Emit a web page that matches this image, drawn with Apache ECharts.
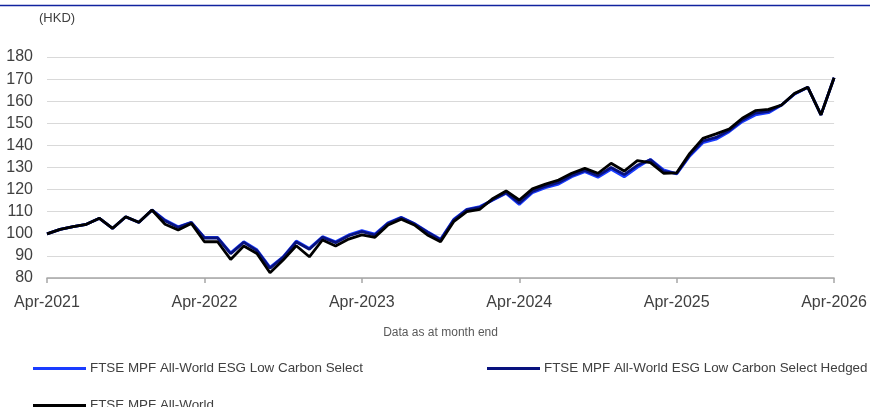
<!DOCTYPE html>
<html>
<head>
<meta charset="utf-8">
<script src="https://cdn.jsdelivr.net/npm/echarts@6/dist/echarts.min.js"></script>
<style>
html,body{margin:0;padding:0;background:#fff;}
#chart{width:870px;height:407px;}
</style>
</head>
<body>
<div id="chart"></div>
<script>
var categories = [
  "Apr-2021","May-2021","Jun-2021","Jul-2021","Aug-2021","Sep-2021","Oct-2021","Nov-2021","Dec-2021",
  "Jan-2022","Feb-2022","Mar-2022","Apr-2022","May-2022","Jun-2022","Jul-2022","Aug-2022","Sep-2022","Oct-2022","Nov-2022","Dec-2022",
  "Jan-2023","Feb-2023","Mar-2023","Apr-2023","May-2023","Jun-2023","Jul-2023","Aug-2023","Sep-2023","Oct-2023","Nov-2023","Dec-2023",
  "Jan-2024","Feb-2024","Mar-2024","Apr-2024","May-2024","Jun-2024","Jul-2024","Aug-2024","Sep-2024","Oct-2024","Nov-2024","Dec-2024",
  "Jan-2025","Feb-2025","Mar-2025","Apr-2025","May-2025","Jun-2025","Jul-2025","Aug-2025","Sep-2025","Oct-2025","Nov-2025","Dec-2025",
  "Jan-2026","Feb-2026","Mar-2026","Apr-2026"
];

var seriesNames = [
  "FTSE MPF All-World ESG Low Carbon Select",
  "FTSE MPF All-World ESG Low Carbon Select Hedged",
  "FTSE MPF All-World"
];

var esgLowCarbon = [
  100, 102, 103.2, 104.3, 107, 102.5, 107.7, 105.2, 110.8,
  106.2, 103.2, 105.2, 98.4, 98.4, 91.4, 96.4, 92.8, 84.8, 89.6, 96.7, 93.4,
  98.7, 96.4, 99.5, 101.4, 99.9, 105, 107.5, 104.7, 101, 97.5, 106.5, 111.1,
  112.3, 115.3, 118.3, 113.3, 118.6, 120.9, 122.5, 125.8, 128.1, 125.6, 129.2, 125.8,
  130.1, 133.7, 128.9, 127.1, 135.2, 141.2, 142.8, 146.2, 150.7, 153.8, 154.8, 158.3,
  163.3, 166.3, 153.8, 170.6
];

var esgLowCarbonHedged = [
  100, 102, 103.2, 104.3, 107, 102.4, 107.6, 105.1, 110.7,
  105.9, 102.9, 105.1, 98.1, 98.1, 91, 96.1, 92.4, 84.4, 89.3, 96.3, 93,
  98.4, 96, 99.1, 101, 99.4, 104.7, 107.3, 104.5, 100.7, 97.2, 106.2, 110.8,
  111.9, 115.5, 118.6, 114, 119.2, 121.5, 123.2, 126.4, 128.7, 126.3, 130, 126.8,
  131, 133.5, 128.3, 127.3, 135.7, 142, 143.6, 146.7, 151.4, 154.6, 155.4, 158.3,
  163.4, 166.3, 153.8, 170.6
];

var allWorld = [
  100, 102, 103.2, 104.3, 107, 102.5, 107.7, 105.2, 110.8,
  104.3, 101.7, 104.7, 96.4, 96.4, 88.4, 94.5, 91.1, 82.4, 88.1, 94.6, 89.6,
  97.2, 94.5, 97.6, 99.5, 98.4, 104, 106.6, 104, 99.5, 96.4, 105.5, 110,
  111.1, 116, 119.4, 115.3, 120.3, 122.5, 124.3, 127.4, 129.6, 127.4, 131.9, 128.4,
  133.1, 132.2, 127.4, 127.6, 136.4, 143.2, 145.2, 147.4, 152.3, 155.7, 156.3, 158.3,
  163.6, 166.3, 153.8, 170.6
];

var yTicks = { min: 80, max: 180, interval: 10 };

var colors = ["#1a3cff", "#08127e", "#000000"];
var font = "Arial, 'Liberation Sans', sans-serif";

var chart = echarts.init(document.getElementById('chart'), null, { renderer: 'canvas' });

function legendFor(i, left, top) {
  return {
    show: true,
    data: [seriesNames[i]],
    left: left,
    top: top,
    orient: 'horizontal',
    icon: 'rect',
    itemWidth: 53,
    itemHeight: 3,
    padding: 0,
    textStyle: { fontFamily: font, fontSize: 13.4, color: '#404040', padding: [0, 0, 0, -1] }
  };
}

chart.setOption({
  animation: false,
  backgroundColor: '#ffffff',
  color: colors,
  grid: { left: 47, right: 34, top: 57, bottom: 129, containLabel: false },
  legend: [
    legendFor(0, 33, 362),
    legendFor(1, 487, 362),
    legendFor(2, 33, 399)
  ],
  graphic: [
    {
      type: 'line',
      shape: { x1: 0, y1: 5.5, x2: 870, y2: 5.5 },
      style: { stroke: '#10239f', lineWidth: 1.5 }
    },
    {
      type: 'text',
      left: 39,
      top: 12,
      style: { text: '(HKD)', fontFamily: font, fontSize: 13, fill: '#404040' }
    }
  ],
  xAxis: {
    type: 'category',
    data: categories,
    boundaryGap: false,
    name: 'Data as at month end',
    nameLocation: 'middle',
    nameGap: 49,
    nameTextStyle: { fontFamily: font, fontSize: 12, color: '#595959' },
    axisLine: { show: true, lineStyle: { color: '#a6a6a6', width: 1.5 } },
    axisTick: { show: true, interval: 11, length: 5, lineStyle: { color: '#a6a6a6', width: 1.5 } },
    axisLabel: { interval: 11, margin: 17, fontFamily: font, fontSize: 16, color: '#404040' },
    splitLine: { show: false }
  },
  yAxis: {
    type: 'value',
    min: yTicks.min,
    max: yTicks.max,
    interval: yTicks.interval,
    axisLine: { show: false },
    axisTick: { show: false },
    axisLabel: { margin: 14, fontFamily: font, fontSize: 16, color: '#404040' },
    splitLine: { show: true, lineStyle: { color: '#d9d9d9', width: 1.2 } }
  },
  series: [
    {
      name: seriesNames[0], type: 'line', data: esgLowCarbon, symbol: 'none',
      lineStyle: { width: 2.8, color: colors[0] }, z: 2
    },
    {
      name: seriesNames[1], type: 'line', data: esgLowCarbonHedged, symbol: 'none',
      lineStyle: { width: 2.8, color: colors[1] }, z: 3
    },
    {
      name: seriesNames[2], type: 'line', data: allWorld, symbol: 'none',
      lineStyle: { width: 2.8, color: colors[2] }, z: 4
    }
  ]
});
</script>
</body>
</html>
